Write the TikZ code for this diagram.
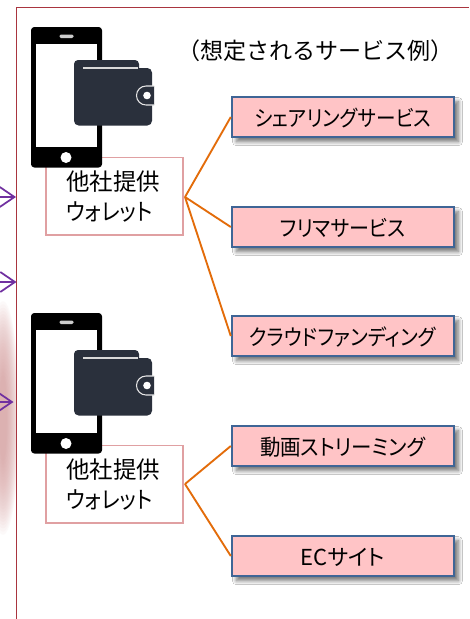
\documentclass[tikz,border=0pt]{standalone}
\usepackage{fontspec}
\setmainfont[RawFeature=+palt]{Noto Sans CJK JP}
\newfontfamily\titlefont{Noto Sans CJK JP}
\usetikzlibrary{arrows.meta,shadows.blur,fadings}
\definecolor{frameRed}{HTML}{A9353F}
\definecolor{glowRed}{HTML}{D9A0A0}
\definecolor{wboxEdge}{HTML}{E0A0A2}
\definecolor{linkOrange}{HTML}{E36C0A}
\definecolor{svcFill}{HTML}{FFC4C6}
\definecolor{svcEdge}{HTML}{3F6596}
\definecolor{arrowPurple}{HTML}{7030A0}
\definecolor{walletDark}{HTML}{2A303C}
\tikzset{
  x=0.75pt,y=-0.75pt,
  wbox/.style={draw=wboxEdge,line width=1.4pt,fill=white,minimum width=103pt,minimum height=58pt,inner sep=0pt,anchor=north west},
  svc/.style={draw=svcEdge,line width=1.5pt,fill=svcFill,minimum width=166.5pt,minimum height=30pt,inner sep=0pt,text height=14pt,text depth=0pt,font=\fontsize{16.5pt}{18pt}\selectfont,anchor=north west,
    blur shadow={shadow xshift=3.5pt,shadow yshift=-3.5pt,shadow blur steps=8,shadow blur radius=3pt,shadow opacity=55}},
  link/.style={draw=linkOrange,line width=1.4pt},
  inarrow/.style={draw=arrowPurple,line width=1.3pt,-{Straight Barb[length=11pt,width=15pt,line width=1.3pt]}},
  wtext/.style={font=\fontsize{17.6pt}{22.3pt}\selectfont,anchor=north west,inner sep=0pt,align=left},
}
\newcommand{\kt}[2][.9]{\scalebox{#1}[1]{#2}}
\newcommand{\phonewallet}[3]{%
  \begin{scope}[shift={(0,#1)}]
    \fill[black,rounded corners=2.5pt] (31,0) rectangle (102,140.5);
    \fill[white] (36,16.5) rectangle (97,120);
    \fill[white!80!black,rounded corners=1pt] (59.5,7.5) rectangle (73.5,11);
    \fill[white] (66,130.5) circle (5.5);
  \end{scope}
  \begin{scope}[shift={(0,#2)}]
    \fill[walletDark,rounded corners=3pt] (74,0) rectangle (139,20);
    \fill[walletDark,rounded corners=3.5pt] (74,8) rectangle (152,65.5);
    \draw[white!85!black,line width=0.8pt] (83,8) -- (138,8);
    \fill[walletDark] (154,26) -- (146,26) arc[start angle=270,end angle=90,radius=9.5] -- (154,45) -- cycle;
    \draw[white!90!black,line width=0.8pt] (154,26) -- (146,26) arc[start angle=270,end angle=90,radius=9.5] -- (154,45);
    \fill[white] (147,35.5) circle (3.8);
  \end{scope}
}
\begin{document}
\begin{tikzpicture}
\useasboundingbox (0,0) rectangle (469,619);
\fill[white] (0,0) rectangle (469,619);
\begin{scope}
  \clip (0,0) rectangle (16.5,619);
  \foreach \k in {1,...,24}{
    \fill[glowRed,opacity=.055] (3,418) ellipse ({17-\k*.55} and {120-\k*3.2});
  }
\end{scope}
\draw[frameRed,line width=0.9pt] (16.5,619) -- (16.5,7.5) -- (469,7.5);
\coordinate (in1s) at (-4,197); \coordinate (in1e) at (16,197);
\coordinate (in2s) at (-4,282); \coordinate (in2e) at (16.5,282);
\coordinate (in3s) at (-4,402); \coordinate (in3e) at (13.5,402);
\draw[inarrow] (in1s) -- (in1e);
\draw[inarrow] (in2s) -- (in2e);
\draw[inarrow] (in3s) -- (in3e);
\node[wbox] (w1) at (44.8,156.5) {};
\node[wbox] (w2) at (44.8,444.5) {};
\phonewallet{27}{60}{a}
\phonewallet{313}{350}{b}
\node[wtext] (w1t) at (66,171) {他社提供\\\kt[.89]{ウォレット}};
\node[wtext] (w2t) at (66,459) {他社提供\\\kt[.89]{ウォレット}};
\node[font=\fontsize{17.3pt}{20pt}\titlefont,anchor=west,inner sep=0pt] (title) at (177,51) {（想定されるサービス例）};
\node[svc] (s1) at (230.8,96) {\kt[.89]{シェアリングサービス}};
\node[svc] (s2) at (230.8,206) {\kt[.91]{フリマサービス}};
\node[svc] (s3) at (230.8,315) {\kt[.9]{クラウドファンディング}};
\node[svc] (s4) at (230.8,425) {\kt[.93]{動画ストリーミング}};
\node[svc] (s5) at (230.8,535) {ECサイト};
\coordinate (p1) at (185,197);
\coordinate (p2) at (185,484);
\draw[link] (p1) -- (s1.west);
\draw[link] (p1) -- (s2.west);
\draw[link] (p1) -- (s3.west);
\draw[link] (p2) -- (s4.west);
\draw[link] (p2) -- (s5.west);
\end{tikzpicture}
\end{document}
